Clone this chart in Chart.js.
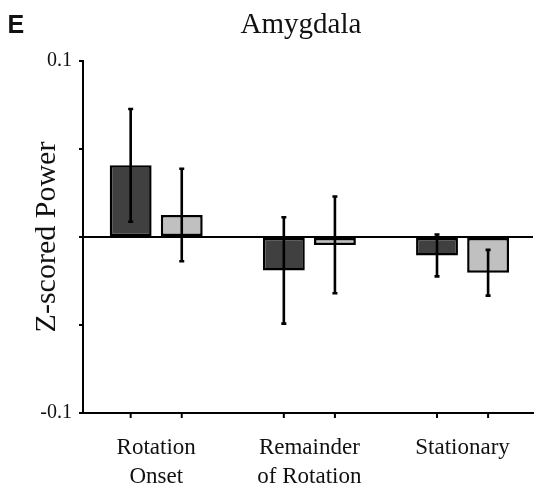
<!DOCTYPE html>
<html>
<head>
<meta charset="utf-8">
<script src="https://cdn.jsdelivr.net/npm/chart.js@4"></script>
<style>
  html, body { margin: 0; padding: 0; background: #fff; overflow: hidden; }
  #wrap { width: 534px; height: 484px; }
</style>
</head>
<body>
<div id="wrap"><canvas id="c" width="534" height="484"></canvas></div>
<script>
// Mean z-scored power per movement epoch (two conditions) with error bars
const categories = ['Rotation Onset', 'Remainder of Rotation', 'Stationary'];
const categoryLines = [['Rotation', 'Onset'], ['Remainder', 'of Rotation'], ['Stationary']];
const darkValues = [0.0407, -0.0190, -0.0105];
const darkErrors = [0.0320, 0.0302, 0.0119];
const lightValues = [0.0125, -0.0045, -0.0203];
const lightErrors = [0.0263, 0.0275, 0.0130];
const yTickValues = [-0.1, -0.05, 0, 0.05, 0.1];
const yTickLabels = ['-0.1', '', '', '', '0.1'];

const serif = '"Liberation Serif", "DejaVu Serif", serif';
const ink = '#111';

const errors = [darkErrors, lightErrors];

// Vertical error bars with small caps, centred on each bar
const errorBars = {
  id: 'errorBars',
  afterDatasetsDraw(chart) {
    const ctx = chart.ctx;
    const y = chart.scales.y;
    ctx.save();
    ctx.strokeStyle = '#000';
    ctx.lineWidth = 2.6;
    chart.data.datasets.forEach((ds, di) => {
      const meta = chart.getDatasetMeta(di);
      meta.data.forEach((el, i) => {
        const v = ds.data[i].y;
        const e = errors[di][i];
        const top = y.getPixelForValue(v + e);
        const bot = y.getPixelForValue(v - e);
        ctx.beginPath();
        ctx.moveTo(el.x, top);
        ctx.lineTo(el.x, bot);
        ctx.moveTo(el.x - 2.5, top);
        ctx.lineTo(el.x + 2.5, top);
        ctx.moveTo(el.x - 2.5, bot);
        ctx.lineTo(el.x + 2.5, bot);
        ctx.stroke();
      });
    });
    ctx.restore();
  }
};

// Short tick marks under the x axis at every bar centre
const barTicks = {
  id: 'barTicks',
  afterDraw(chart) {
    const ctx = chart.ctx;
    const b = chart.chartArea.bottom;
    ctx.save();
    ctx.strokeStyle = '#000';
    ctx.lineWidth = 2;
    chart.data.datasets.forEach((ds, di) => {
      chart.getDatasetMeta(di).data.forEach(el => {
        ctx.beginPath();
        ctx.moveTo(el.x, b);
        ctx.lineTo(el.x, b + 5);
        ctx.stroke();
      });
    });
    ctx.restore();
  }
};

// Panel letter and region title
const headings = {
  id: 'headings',
  afterDraw(chart) {
    const ctx = chart.ctx;
    ctx.save();
    ctx.fillStyle = ink;
    ctx.textBaseline = 'alphabetic';
    ctx.textAlign = 'left';
    ctx.font = 'bold 25px "Liberation Sans", Arial, sans-serif';
    ctx.fillText('E', 7.5, 33);
    ctx.textAlign = 'center';
    ctx.font = '29px ' + serif;
    ctx.fillText('Amygdala', 301, 33);
    ctx.restore();
  }
};

new Chart(document.getElementById('c'), {
  type: 'bar',
  data: {
    datasets: [
      {
        label: 'dark',
        data: darkValues.map((v, i) => ({ x: i, y: v })),
        backgroundColor: '#404040',
        borderColor: '#000',
        borderWidth: 2.5,
        borderSkipped: false
      },
      {
        label: 'light',
        data: lightValues.map((v, i) => ({ x: i, y: v })),
        backgroundColor: '#c0c0c0',
        borderColor: '#000',
        borderWidth: 2.5,
        borderSkipped: false
      }
    ]
  },
  options: {
    responsive: false,
    animation: false,
    devicePixelRatio: 1,
    categoryPercentage: 0.667,
    barPercentage: 0.82,
    layout: { padding: { top: 61, right: 1, bottom: 0, left: 0 } },
    plugins: {
      legend: { display: false },
      tooltip: { enabled: false },
      title: { display: false }
    },
    scales: {
      x: {
        type: 'linear',
        offset: false,
        min: -0.478,
        max: 2.46,
        afterBuildTicks: (scale) => {
          scale.ticks = categories.map((_, i) => ({ value: i }));
        },
        afterFit: (scale) => { scale.height = 71; },
        grid: { display: false, offset: false },
        border: { display: true, color: '#000', width: 2 },
        ticks: {
          autoSkip: false,
          maxRotation: 0,
          padding: 13,
          color: ink,
          font: { family: serif, size: 23, lineHeight: 1.25 },
          callback: (v, i) => categoryLines[i]
        }
      },
      y: {
        min: -0.1,
        max: 0.1,
        afterBuildTicks: (scale) => {
          scale.ticks = yTickValues.map(v => ({ value: v }));
        },
        afterFit: (scale) => { scale.width = 83; },
        grid: {
          drawOnChartArea: true,
          color: (c) => (c.tick && c.tick.value === 0 ? '#000' : 'rgba(0,0,0,0)'),
          tickColor: '#000',
          lineWidth: 2,
          tickWidth: 2,
          tickLength: 4
        },
        border: { display: true, color: '#000', width: 2 },
        ticks: {
          padding: 7,
          color: ink,
          font: { family: serif, size: 20 },
          callback: (v, i) => yTickLabels[i]
        },
        title: {
          display: true,
          text: 'Z-scored Power',
          color: ink,
          font: { family: serif, size: 30, lineHeight: 1.2 },
          padding: { top: 29, bottom: 0 }
        }
      }
    }
  },
  plugins: [errorBars, barTicks, headings]
});
</script>
</body>
</html>
